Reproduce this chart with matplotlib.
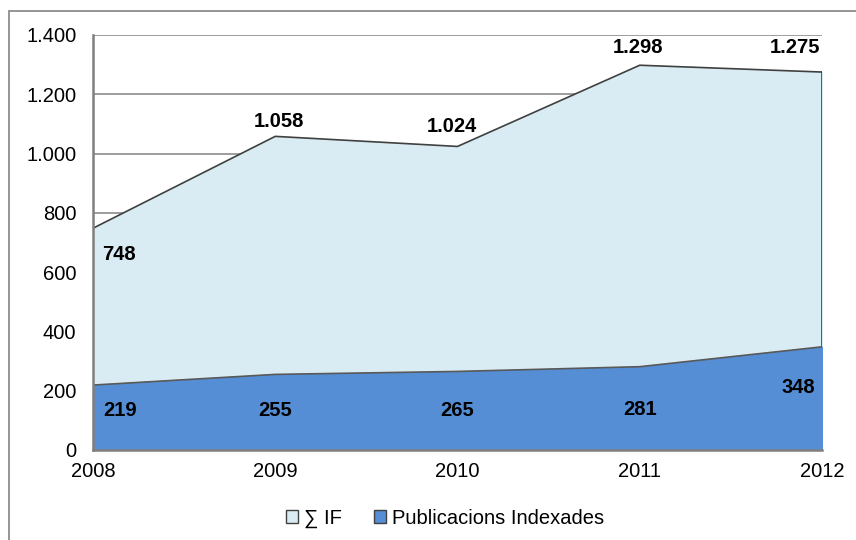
import matplotlib
matplotlib.use("Agg")
import matplotlib.pyplot as plt
from matplotlib.ticker import FuncFormatter
from matplotlib.patches import Rectangle, Patch

plt.rcParams['font.family'] = ['Liberation Sans', 'DejaVu Sans']

years = [2008, 2009, 2010, 2011, 2012]
suma_if = [748, 1058, 1024, 1298, 1275]
publicacions = [219, 255, 265, 281, 348]

light = '#DAECF3'
dark = '#558ED5'
edge = '#404040'
fs = 14.5

def fmt(v, pos=None):
    return f"{int(v):,}".replace(",", ".")

fig = plt.figure(figsize=(8.56, 5.4), dpi=100)
ax = fig.add_axes([0.1086, 0.1667, 0.8517, 0.7685])

# outer chart border
fig.patches.append(Rectangle((9 / 856, -0.1), 1.2, 1 - 11 / 540 + 0.1, transform=fig.transFigure,
                             fill=False, edgecolor='#8c8c8c', lw=1.3, zorder=0))

ax.fill_between(years, suma_if, color=light, zorder=2)
ax.plot(years, suma_if, color=edge, lw=1.2, zorder=3)
ax.plot([years[-1], years[-1]], [0, suma_if[-1]], color=edge, lw=1.2, zorder=3)
ax.fill_between(years, publicacions, color=dark, zorder=4)
ax.plot(years, publicacions, color='#595959', lw=1.2, zorder=5)

ax.set_xlim(years[0], years[-1])
ax.set_ylim(0, 1400)
ax.set_yticks(range(0, 1401, 200))
ax.yaxis.set_major_formatter(FuncFormatter(fmt))
ax.set_xticks(years)
ax.grid(axis='y', color='#8c8c8c', lw=1.2)
ax.set_axisbelow(True)
for s in ['top', 'right']:
    ax.spines[s].set_visible(False)
for s in ['left', 'bottom']:
    ax.spines[s].set_color('#7f7f7f')
    ax.spines[s].set_linewidth(1.8)
    ax.spines[s].set_zorder(6)
ax.tick_params(length=0, labelsize=fs, pad=9)
ax.tick_params(axis='y', pad=12)

# data labels (x shift in years, y position in data units)
if_dx = [0.14, 0.02, -0.03, -0.01, -0.15]
if_y = [658, 1107, 1090, 1358, 1358]
for x, v, dx, yy in zip(years, suma_if, if_dx, if_y):
    ax.text(x + dx, yy, fmt(v), ha='center', va='center', fontsize=fs, fontweight='bold', zorder=7)
pub_dx = [0.15, 0, 0, 0, -0.13]
pub_y = [132, 132, 132, 138, 212]
for x, v, dx, yy in zip(years, publicacions, pub_dx, pub_y):
    ax.text(x + dx, yy, str(v), ha='center', va='center', fontsize=fs, fontweight='bold', zorder=7)

handles = [Patch(facecolor=light, edgecolor=edge, label='∑ IF'),
           Patch(facecolor=dark, edgecolor=edge, label='Publicacions Indexades')]
fig.legend(handles=handles, loc='center', bbox_to_anchor=(0.52, 0.04), ncol=2, frameon=False,
           fontsize=fs, handlelength=0.6, handleheight=0.6, handletextpad=0.3, columnspacing=1.6)

fig.savefig('out.png', dpi=100)
